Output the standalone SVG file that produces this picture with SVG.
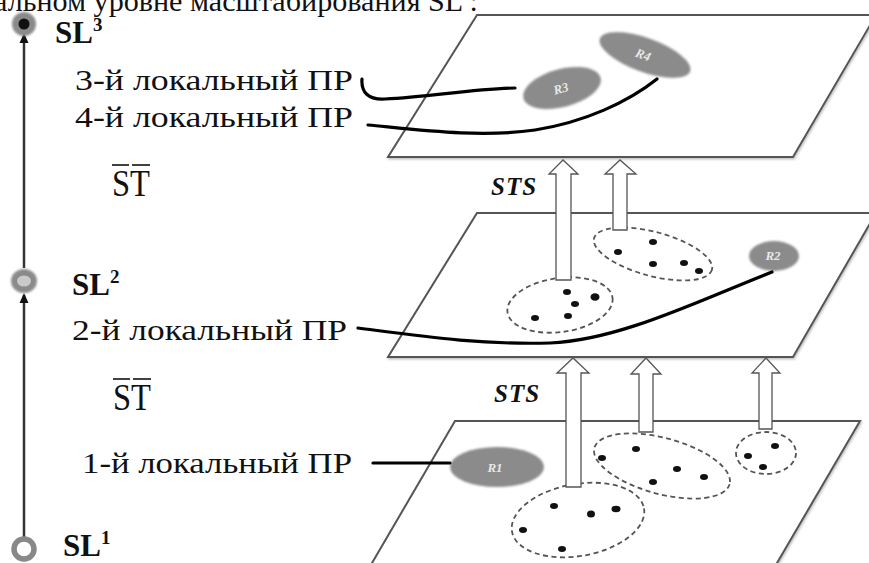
<svg xmlns="http://www.w3.org/2000/svg" width="869" height="563" viewBox="0 0 869 563">
  <defs>
    <filter id="soft" x="-20%" y="-30%" width="140%" height="160%">
      <feGaussianBlur stdDeviation="0.9"/>
    </filter>
    <filter id="shade" x="-10%" y="-10%" width="120%" height="130%">
      <feDropShadow dx="1" dy="1.5" stdDeviation="1.2" flood-color="#000" flood-opacity="0.25"/>
    </filter>
  </defs>
  <style>
    .serif { font-family: "Liberation Serif", "Times New Roman", serif; fill: #111; }
    .sl { font-weight: bold; }
    .sts { font-family: "Liberation Serif", serif; font-size: 25px; font-weight: bold; font-style: italic; fill: #111; letter-spacing: 1px; }
    .plane { fill: #fff; stroke: #555; stroke-width: 2; }
    .region { fill: #8b8b8b; filter: url(#soft); }
    .rtxt { font-family: "Liberation Serif", serif; font-size: 13px; font-weight: bold; font-style: italic; fill: #e8e8e8; text-anchor: middle; }
    .cluster { fill: none; stroke: #555; stroke-width: 1.8; stroke-dasharray: 5 3.5; }
    .dot { fill: #111; }
    .link { fill: none; stroke: #000; stroke-width: 3.2; stroke-linecap: round; }
    .block { fill: #fff; stroke: #555; stroke-width: 1.3; stroke-linejoin: miter; }
    .axis { stroke: #333; stroke-width: 2.5; }
    .bar { stroke: #111; stroke-width: 1.6; }
  </style>

  <!-- heading line, clipped at the top edge -->
  <text class="serif" font-family="Liberation Serif, serif" font-size="30" x="-6" y="11" textLength="484" lengthAdjust="spacingAndGlyphs">альном уровне масштабирования SL :</text>

  <!-- scale axis -->
  <g id="axis">
    <line class="axis" x1="24" y1="36" x2="24" y2="268"/>
    <line class="axis" x1="24" y1="295" x2="24" y2="539"/>
    <polygon points="24,33 19.5,43 28.5,43" fill="#111"/>
    <polygon points="24,293 19.5,303 28.5,303" fill="#111"/>
  </g>
  <g id="sl3-mark">
    <circle cx="24" cy="24" r="12" fill="#8a8a8a" filter="url(#soft)"/>
    <circle cx="24" cy="24" r="5.5" fill="#111"/>
  </g>
  <g id="sl2-mark">
    <ellipse cx="24" cy="281" rx="13" ry="12" fill="#8a8a8a" filter="url(#soft)"/>
    <ellipse cx="24" cy="281" rx="7" ry="5.5" fill="#c9c9c9"/>
  </g>
  <g id="sl1-mark">
    <circle cx="24" cy="549" r="10" fill="#fff" stroke="#888" stroke-width="5.5"/>
  </g>

  <!-- left-hand labels -->
  <g id="sl3-label"><text class="serif sl" font-family="Liberation Serif, serif" font-size="31" font-weight="bold" x="55" y="43">SL<tspan font-size="19" dy="-12">3</tspan></text></g>
  <g id="pr3-label"><text class="serif" font-family="Liberation Serif, serif" font-size="29" x="75" y="90" textLength="278" lengthAdjust="spacingAndGlyphs">3-й локальный ПР</text></g>
  <g id="pr4-label"><text class="serif" font-family="Liberation Serif, serif" font-size="29" x="75" y="127" textLength="278" lengthAdjust="spacingAndGlyphs">4-й локальный ПР</text></g>
  <g id="st-upper">
    <text class="serif" font-family="Liberation Serif, serif" font-size="37" x="112" y="196" textLength="38" lengthAdjust="spacingAndGlyphs">ST</text>
    <line class="bar" x1="112" y1="165" x2="129" y2="165"/>
    <line class="bar" x1="132" y1="165" x2="150" y2="165"/>
  </g>
  <g id="sl2-label"><text class="serif sl" font-family="Liberation Serif, serif" font-size="31" font-weight="bold" x="72" y="295">SL<tspan font-size="19" dy="-12">2</tspan></text></g>
  <g id="pr2-label"><text class="serif" font-family="Liberation Serif, serif" font-size="29" x="72" y="340" textLength="275" lengthAdjust="spacingAndGlyphs">2-й локальный ПР</text></g>
  <g id="st-lower">
    <text class="serif" font-family="Liberation Serif, serif" font-size="37" x="113" y="410" textLength="38" lengthAdjust="spacingAndGlyphs">ST</text>
    <line class="bar" x1="113" y1="379" x2="130" y2="379"/>
    <line class="bar" x1="133" y1="379" x2="151" y2="379"/>
  </g>
  <g id="pr1-label"><text class="serif" font-family="Liberation Serif, serif" font-size="29" x="82" y="473" textLength="270" lengthAdjust="spacingAndGlyphs">1-й локальный ПР</text></g>
  <g id="sl1-label"><text class="serif sl" font-family="Liberation Serif, serif" font-size="31" font-weight="bold" x="63" y="556">SL<tspan font-size="19" dy="-12">1</tspan></text></g>

  <!-- planes -->
  <g id="plane-3"><polygon class="plane" filter="url(#shade)" points="477,15 876,15 793,157 388,157"/></g>
  <g id="plane-2"><polygon class="plane" filter="url(#shade)" points="477,213 876,213 793,357 388,357"/></g>
  <g id="plane-1"><polygon class="plane" filter="url(#shade)" points="455,421 860,421 770,575 365,575"/></g>

  <!-- regions on plane 3 -->
  <g id="R4">
    <ellipse class="region" cx="645" cy="55" rx="48" ry="17" transform="rotate(20 645 55)"/>
    <text class="rtxt" x="643" y="59" transform="rotate(20 643 55)">R4</text>
  </g>
  <g id="R3">
    <ellipse class="region" cx="562" cy="88" rx="40" ry="19" transform="rotate(-15 562 88)"/>
    <text class="rtxt" x="561" y="93" transform="rotate(-15 561 89)">R3</text>
  </g>

  <!-- clusters on plane 2 -->
  <g id="cluster-2a">
    <ellipse class="cluster" cx="560" cy="305" rx="53" ry="27" transform="rotate(-8 560 305)"/>
    <ellipse class="dot" cx="567" cy="292" rx="4" ry="3"/>
    <ellipse class="dot" cx="595" cy="297" rx="4.5" ry="3.8"/>
    <ellipse class="dot" cx="575" cy="304" rx="4" ry="3"/>
    <ellipse class="dot" cx="568" cy="316" rx="4" ry="3"/>
    <ellipse class="dot" cx="535" cy="318" rx="4" ry="3"/>
  </g>
  <g id="cluster-2b">
    <ellipse class="cluster" cx="653" cy="254" rx="61" ry="22" transform="rotate(15 653 254)"/>
    <ellipse class="dot" cx="653" cy="242" rx="4" ry="3"/>
    <ellipse class="dot" cx="618" cy="252" rx="4" ry="3"/>
    <ellipse class="dot" cx="653" cy="264" rx="4" ry="3"/>
    <ellipse class="dot" cx="684" cy="263" rx="4" ry="3"/>
    <ellipse class="dot" cx="699" cy="271" rx="4" ry="3"/>
  </g>
  <g id="R2">
    <ellipse class="region" cx="774" cy="256" rx="25" ry="15"/>
    <text class="rtxt" x="773" y="260">R2</text>
  </g>

  <!-- clusters on plane 1 -->
  <g id="cluster-1a">
    <ellipse class="cluster" cx="578" cy="520" rx="67" ry="36" transform="rotate(-10 578 520)"/>
    <ellipse class="dot" cx="554" cy="506" rx="4" ry="3"/>
    <ellipse class="dot" cx="591" cy="514" rx="4" ry="3.5"/>
    <ellipse class="dot" cx="616" cy="509" rx="4.5" ry="3.2"/>
    <ellipse class="dot" cx="523" cy="530" rx="4" ry="3"/>
    <ellipse class="dot" cx="562" cy="549" rx="4" ry="3"/>
  </g>
  <g id="cluster-1b">
    <ellipse class="cluster" cx="662" cy="466" rx="70" ry="28" transform="rotate(15 662 466)"/>
    <ellipse class="dot" cx="636" cy="449" rx="4" ry="3"/>
    <ellipse class="dot" cx="602" cy="458" rx="4" ry="3"/>
    <ellipse class="dot" cx="677" cy="469" rx="4" ry="3"/>
    <ellipse class="dot" cx="704" cy="477" rx="4" ry="3"/>
    <ellipse class="dot" cx="653" cy="482" rx="4" ry="3"/>
  </g>
  <g id="cluster-1c">
    <ellipse class="cluster" cx="766" cy="453" rx="30" ry="21"/>
    <ellipse class="dot" cx="775" cy="446" rx="4" ry="3"/>
    <ellipse class="dot" cx="748" cy="456" rx="4" ry="3"/>
    <ellipse class="dot" cx="763" cy="467" rx="4" ry="3"/>
  </g>
  <g id="R1">
    <ellipse class="region" cx="497" cy="467" rx="47" ry="20"/>
    <text class="rtxt" x="495" y="472">R1</text>
  </g>

  <!-- STS labels -->
  <g id="sts-upper"><text class="sts" x="491" y="195">STS</text></g>
  <g id="sts-lower"><text class="sts" x="494" y="402">STS</text></g>

  <!-- connectors: label links and transition arrows -->
  <g id="connectors">
    <path class="link" d="M362,79 C361,92 368,100 385,99 C430,97 470,89 515,88"/>
    <path class="link" d="M368,125 C420,130 480,138 535,130 C585,122 628,102 657,79"/>
    <path class="link" d="M358,328 C420,336 480,345 550,343 C620,340 700,300 772,272"/>
    <path class="link" d="M373,463 L450,463"/>

    <polygon class="block" points="556,280 556,174 549,174 563,160 578,174 571,174 571,280"/>
    <polygon class="block" points="613,230 613,174 605,174 620,160 636,174 627,174 627,230"/>
    <polygon class="block" points="566,487 566,373 557,373 573,358 589,373 581,373 581,487"/>
    <polygon class="block" points="639,432 639,374 631,374 646,358 661,374 653,374 653,432"/>
    <polygon class="block" points="759,429 759,373 752,373 766,358 780,373 772,373 772,429"/>
  </g>
</svg>
